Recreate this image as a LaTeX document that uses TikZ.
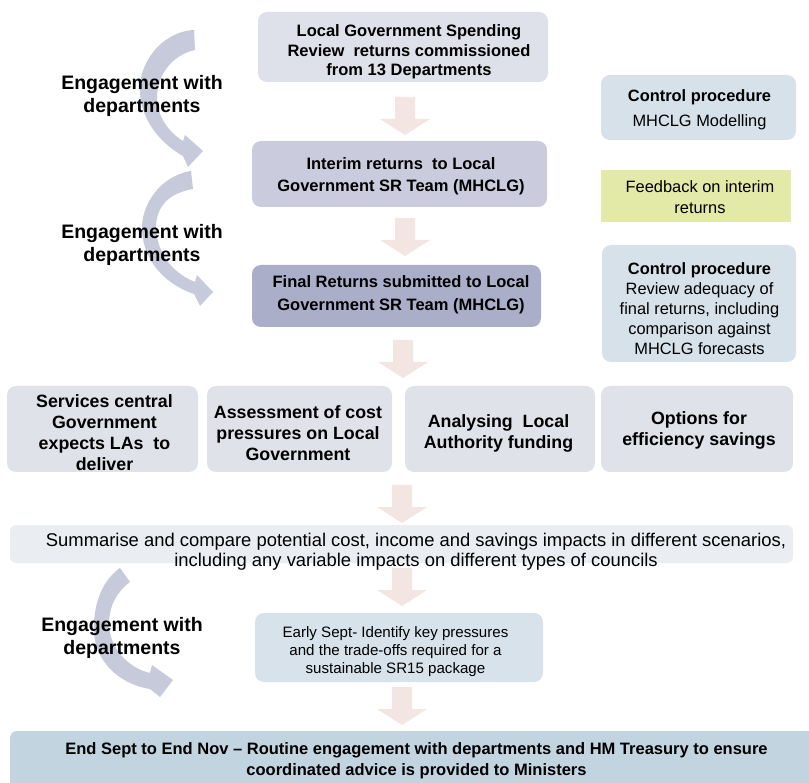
\documentclass[tikz,border=0pt]{standalone}
\usepackage{fontspec}
\setmainfont{Liberation Sans}
\usetikzlibrary{calc}
\definecolor{boxA}{HTML}{DFE1EA}
\definecolor{boxB}{HTML}{CACCDD}
\definecolor{boxC}{HTML}{AAAEC8}
\definecolor{cpc}{HTML}{D7E1EA}
\definecolor{fbc}{HTML}{E3E9A6}
\definecolor{rowc}{HTML}{E0E2EA}
\definecolor{sumc}{HTML}{EAEEF3}
\definecolor{earlyc}{HTML}{D8E2EA}
\definecolor{botc}{HTML}{C3D4E1}
\definecolor{pinkc}{HTML}{F2E5E2}
\definecolor{cdark}{HTML}{8F919F}
\definecolor{clight}{HTML}{C7CADB}
\pgfdeclareverticalshading{curvsh}{100bp}{color(0bp)=(clight); color(74bp)=(clight); color(86bp)=(cdark); color(100bp)=(cdark)}
\tikzset{
  base/.style={inner sep=0pt, align=center, text=black},
  rbox/.style={base, rounded corners=9pt},
  mtxt/.style={base, font=\bfseries\fontsize{16.5}{22.5}\selectfont},
  rowtxt/.style={base, font=\bfseries\fontsize{17.8}{21}\selectfont},
  cptxt/.style={base, font=\fontsize{16.4}{20}\selectfont},
  engtxt/.style={base, font=\bfseries\fontsize{19.5}{23}\selectfont},
  curv/.style={shading=curvsh},
  pics/downarrow/.style={code={\fill[pinkc] (-10,0) -- (10,0) -- (10,22) -- (25,22) -- (0,38) -- (-25,22) -- (-10,22) -- cycle;}}
}
\begin{document}
\begin{tikzpicture}[x=1pt,y=-1pt]
\useasboundingbox (0,0) rectangle (809,783);
\clip (0,0) rectangle (809,783);
% curved engagement arrows
\shade[curv] (194,30) .. controls (160,32) and (138,65) .. (140,92) .. controls (141,118) and (158,142) .. (183,156) -- (188,167) -- (203,151) -- (185,135) -- (183,141) .. controls (168,132) and (157,115) .. (157,98) .. controls (157,75) and (172,55) .. (195,50) -- cycle;
\shade[curv] (191,171) .. controls (160,176) and (141,205) .. (142,230) .. controls (143,258) and (162,283) .. (194,294) -- (200,306) -- (213,292) -- (197,275) -- (195,282) .. controls (170,272) and (156,250) .. (156,226) .. controls (157,205) and (170,193) .. (193,189) -- cycle;
\shade[curv] (120,568) .. controls (100,582) and (93,608) .. (94,632) .. controls (95,660) and (118,684) .. (150,689) -- (160,697) -- (173,680) -- (152,665) -- (150,673) .. controls (128,668) and (110,648) .. (109,625) .. controls (109,605) and (117,592) .. (130,582) -- cycle;
% block arrows
\coordinate (a1) at (405,97);
\coordinate (a2) at (405,218);
\coordinate (a3) at (403,340);
\coordinate (a4) at (402,485);
\coordinate (a5) at (402,568);
\coordinate (a6) at (402,687);
\foreach \c in {a1,a2,a3,a4,a5,a6} {\pic at (\c) {downarrow};}
% main column boxes
\node[rbox, fill=boxA, minimum width=290pt, minimum height=70pt] (b1) at (403,47) {};
\node[mtxt, font=\bfseries\fontsize{16.5}{19.5}\selectfont] (b1t) at (409,52) {Local Government Spending\\Review~ returns commissioned\\from 13 Departments};
\node[rbox, fill=boxB, minimum width=295pt, minimum height=66pt] (b2) at (399.5,174) {};
\node[mtxt] (b2t) at (401,176) {Interim returns~ to Local\\Government SR Team (MHCLG)};
\node[rbox, fill=boxC, minimum width=289pt, minimum height=62pt] (b3) at (396.5,296) {};
\node[mtxt] (b3t) at (401,294.5) {Final Returns submitted to Local\\Government SR Team (MHCLG)};
% right column
\node[rbox, fill=cpc, minimum width=195pt, minimum height=65pt] (cp1) at (698.5,107.5) {};
\node[cptxt, font=\fontsize{16.4}{25}\selectfont] (cp1t) at (699.5,110) {\textbf{Control procedure}\\MHCLG Modelling};
\node[base, fill=fbc, minimum width=190pt, minimum height=52pt] (fb) at (696,196) {};
\node[cptxt, font=\fontsize{16.4}{21.5}\selectfont] (fbt) at (700,197) {Feedback on interim\\returns};
\node[rbox, fill=cpc, minimum width=194pt, minimum height=117pt] (cp3) at (699,303.5) {};
\node[cptxt] (cp3t) at (699.5,309) {\textbf{Control procedure}\\Review adequacy of\\final returns, including\\comparison against\\MHCLG forecasts};
% row of four
\node[rbox, fill=rowc, minimum width=191pt, minimum height=86pt] (r1) at (102.5,429) {};
\node[rowtxt] (r1t) at (104.5,433) {Services central\\Government\\expects LAs~ to\\deliver};
\node[rbox, fill=rowc, minimum width=185pt, minimum height=86pt] (r2) at (299.5,429) {};
\node[rowtxt] (r2t) at (298,433) {Assessment of cost\\pressures on Local\\Government};
\node[rbox, fill=rowc, minimum width=190pt, minimum height=86pt] (r3) at (500,429) {};
\node[rowtxt] (r3t) at (498.5,433) {Analysing~ Local\\Authority funding};
\node[rbox, fill=rowc, minimum width=192pt, minimum height=86pt] (r4) at (697,429) {};
\node[rowtxt] (r4t) at (699,430.5) {Options for\\efficiency savings};
% summarise
\node[rbox, rounded corners=6pt, fill=sumc, minimum width=783pt, minimum height=38pt] (sum) at (401.5,544) {};
\node[base, font=\fontsize{18.4}{20.5}\selectfont] (sumt) at (416,551.5) {Summarise and compare potential cost, income and savings impacts in different scenarios,\\including any variable impacts on different types of councils};
% early sept
\node[rbox, fill=earlyc, minimum width=288pt, minimum height=69pt] (early) at (399,647.5) {};
\node[base, font=\fontsize{15.1}{18}\selectfont] (earlyt) at (395.5,651.5) {Early Sept- Identify key pressures\\and the trade-offs required for a\\sustainable SR15 package};
% bottom
\node[rbox, rounded corners=7pt, fill=botc, minimum width=805pt, minimum height=62pt] (bot) at (412.5,762) {};
\node[mtxt, font=\bfseries\fontsize{16.5}{21}\selectfont] (bott) at (416.5,761) {End Sept to End Nov – Routine engagement with departments and HM Treasury to ensure\\coordinated advice is provided to Ministers};
% engagement labels
\node[engtxt] (e1) at (142,95.5) {Engagement with\\departments};
\node[engtxt] (e2) at (142,245) {Engagement with\\departments};
\node[engtxt] (e3) at (122,637.5) {Engagement with\\departments};
\end{tikzpicture}
\end{document}
